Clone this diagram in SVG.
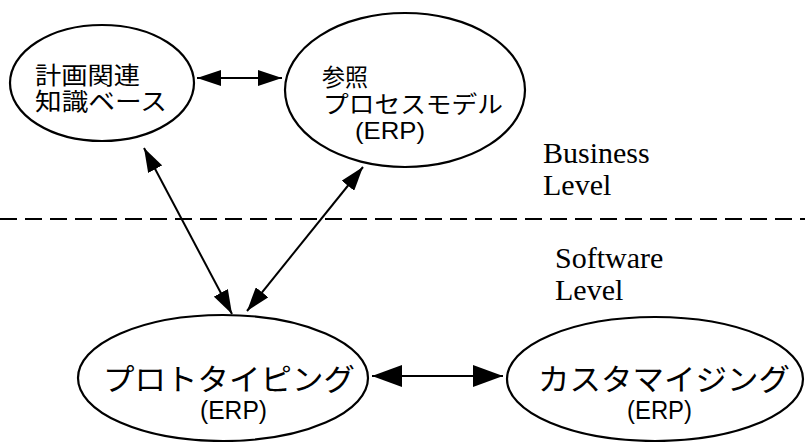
<svg xmlns="http://www.w3.org/2000/svg" width="805" height="442" viewBox="0 0 805 442">
<style>
.node{fill:#fff;stroke:#000;stroke-width:2.2}
.jp{font-family:"Noto Sans CJK JP","Noto Sans",sans-serif;fill:#000}
.erp{font-family:"Liberation Sans",Arial,sans-serif;fill:#000}
.lvl{font-family:"Liberation Serif","Times New Roman",serif;font-size:30px;fill:#000}
.conn{stroke:#000;stroke-width:2;fill:none}
</style>
<defs>
<marker id="ah" viewBox="0 0 24 16" refX="24" refY="8" markerWidth="24" markerHeight="16" markerUnits="userSpaceOnUse" orient="auto-start-reverse"><path d="M0,0 L24,8 L0,16 z" fill="#000"/></marker>
<marker id="ahL" viewBox="0 0 30 22" refX="30" refY="11" markerWidth="30" markerHeight="22" markerUnits="userSpaceOnUse" orient="auto-start-reverse"><path d="M0,0 L30,11 L0,22 z" fill="#000"/></marker>
</defs>
<rect width="805" height="442" fill="#fff"/>
<line x1="0" y1="219" x2="805" y2="219" stroke="#000" stroke-width="2" stroke-dasharray="17 8"/>
<g id="planning-kb">
<ellipse class="node" cx="102" cy="83" rx="92" ry="58"/>
<text class="jp" x="35" y="84" font-size="24" textLength="105" lengthAdjust="spacingAndGlyphs">計画関連</text>
<text class="jp" x="35" y="110" font-size="24" textLength="132" lengthAdjust="spacingAndGlyphs">知識ベース</text>
</g>
<g id="reference-model">
<ellipse class="node" cx="405" cy="90" rx="120" ry="77"/>
<text class="jp" x="322" y="86" font-size="24" textLength="46" lengthAdjust="spacingAndGlyphs">参照</text>
<text class="jp" x="323" y="113" font-size="24" textLength="180" lengthAdjust="spacingAndGlyphs">プロセスモデル</text>
<text class="erp" x="355" y="139" font-size="24" textLength="70" lengthAdjust="spacingAndGlyphs">(ERP)</text>
</g>
<g id="prototyping">
<ellipse class="node" cx="223" cy="378" rx="145" ry="63"/>
<text class="jp" x="103" y="390" font-size="30" textLength="252" lengthAdjust="spacingAndGlyphs">プロトタイピング</text>
<text class="erp" x="200" y="419" font-size="26" textLength="67" lengthAdjust="spacingAndGlyphs">(ERP)</text>
</g>
<g id="customizing">
<ellipse class="node" cx="655" cy="379" rx="148" ry="62"/>
<text class="jp" x="538" y="390" font-size="30" textLength="252" lengthAdjust="spacingAndGlyphs">カスタマイジング</text>
<text class="erp" x="627" y="419" font-size="26" textLength="65" lengthAdjust="spacingAndGlyphs">(ERP)</text>
</g>
<g id="labels">
<text class="lvl" x="543" y="163">Business</text>
<text class="lvl" x="543" y="195">Level</text>
<text class="lvl" x="555" y="268">Software</text>
<text class="lvl" x="555" y="300">Level</text>
</g>
<g id="connectors">
<line class="conn" x1="197" y1="78" x2="282" y2="78" marker-start="url(#ah)" marker-end="url(#ah)"/>
<line class="conn" x1="144" y1="148" x2="232" y2="314" marker-start="url(#ah)" marker-end="url(#ah)"/>
<line class="conn" x1="363" y1="167" x2="247" y2="311" marker-start="url(#ah)" marker-end="url(#ah)"/>
<line class="conn" x1="372" y1="376" x2="503" y2="376" marker-start="url(#ahL)" marker-end="url(#ahL)"/>
</g>
</svg>
